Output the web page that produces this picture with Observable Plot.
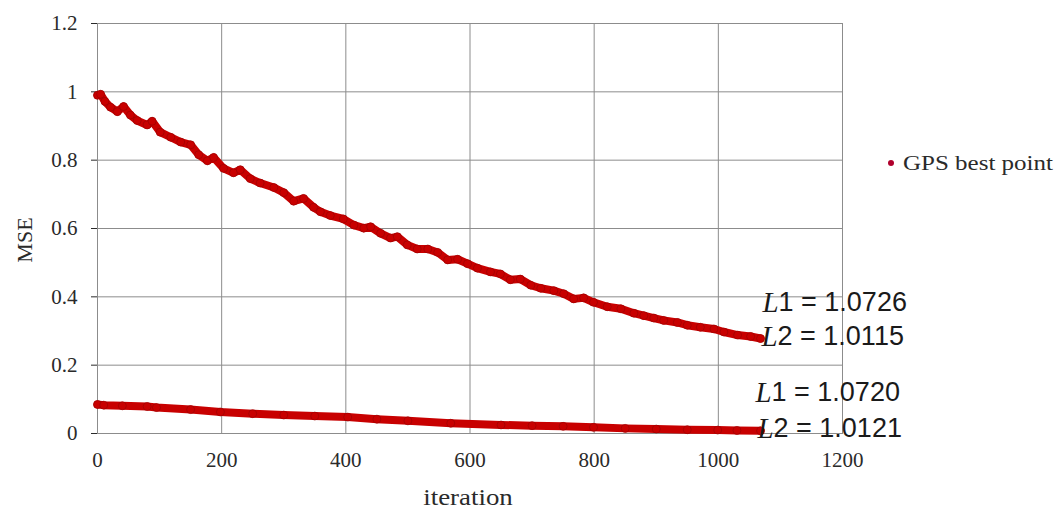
<!DOCTYPE html>
<html><head><meta charset="utf-8">
<script src="https://cdn.jsdelivr.net/npm/d3@7"></script>
<script src="https://cdn.jsdelivr.net/npm/@observablehq/plot@0.6"></script>
<style>
body{margin:0;background:#fff;}
#chart{position:relative;width:1060px;height:514px;}
</style></head><body><div id="chart"></div>
<script>
// Upper run: iteration / MSE
const upperIter = [0,5,12,21,32,42,53,64,80,88,101,118,134,150,163,177,187,203,219,230,246,262,284,300,316,332,348,359,375,396,413,429,440,456,472,483,499,515,532,548,564,580,596,612,633,649,665,681,698,714,735,751,767,783,799,821,843,864,880,896,912,934,950,971,993,1009,1031,1052,1068];
const upperMSE  = [0.990,0.993,0.972,0.955,0.942,0.957,0.932,0.916,0.903,0.914,0.882,0.867,0.853,0.845,0.816,0.798,0.808,0.776,0.763,0.772,0.746,0.733,0.720,0.705,0.680,0.688,0.662,0.649,0.638,0.628,0.610,0.601,0.605,0.586,0.572,0.576,0.552,0.540,0.540,0.530,0.508,0.510,0.497,0.484,0.473,0.467,0.450,0.452,0.434,0.425,0.418,0.409,0.394,0.397,0.384,0.371,0.365,0.352,0.345,0.338,0.331,0.325,0.317,0.311,0.306,0.297,0.288,0.284,0.278];
// Lower run
const lowerIter = [0,10,40,80,95,150,198,250,300,350,403,450,500,569,650,700,750,799,850,900,950,999,1030,1068];
const lowerMSE  = [0.085,0.083,0.081,0.079,0.076,0.070,0.063,0.058,0.054,0.051,0.048,0.042,0.037,0.030,0.025,0.023,0.021,0.018,0.015,0.013,0.011,0.010,0.009,0.008];

const xTicks = [0,200,400,600,800,1000,1200];
const yTicks = [0,0.2,0.4,0.6,0.8,1,1.2];
const xLabel = "iteration";
const yLabel = "MSE";
const seriesName = "GPS best point";

// Annotations attached to the end of each run
const annRun   = ["upper","upper","lower","lower"];
const annIndex = ["1","2","1","2"];
const annValue = ["1.0726","1.0115","1.0720","1.0121"];

const data = [
  ...upperIter.map((it,i)=>({run:"upper", iteration:it, mse:upperMSE[i]})),
  ...lowerIter.map((it,i)=>({run:"lower", iteration:it, mse:lowerMSE[i]}))
];
const ends = {
  upper: data.filter(d=>d.run==="upper").slice(-1)[0],
  lower: data.filter(d=>d.run==="lower").slice(-1)[0]
};
const annDy = [-36,-2,-38,-2];
const annDx = [2,1,-5,-3];
const ann = annRun.map((r,i)=>({iteration:ends[r].iteration, mse:ends[r].mse, idx:annIndex[i], val:annValue[i]}));

const red = "#c80000";
const gridColor = "#8c8c8c";
const textColor = "#2a2a2a";
const serif = "'Liberation Serif', 'Times New Roman', serif";

const marks = [
  Plot.ruleX(xTicks, {stroke:gridColor, strokeWidth:1}),
  Plot.ruleY(yTicks, {stroke:gridColor, strokeWidth:1}),
  Plot.frame({stroke:gridColor}),
  Plot.line(data, {x:"iteration", y:"mse", z:"run", stroke:red, strokeWidth:8, strokeLinecap:"round", strokeLinejoin:"round"}),
  Plot.dot(data, {x:"iteration", y:"mse", r:4, fill:red, stroke:"#960000", strokeWidth:0.6})
];
ann.forEach((a,i)=>{
  marks.push(Plot.text([a], {x:"iteration", y:"mse", text:()=>"L", dx:annDx[i], dy:annDy[i], textAnchor:"start", lineAnchor:"middle", fontFamily:serif, fontStyle:"italic", fontSize:29, fill:"#1a1a1a"}));
  marks.push(Plot.text([a], {x:"iteration", y:"mse", text:d=>d.idx+" = "+d.val, dx:annDx[i]+16, dy:annDy[i], textAnchor:"start", lineAnchor:"middle", fontFamily:"'Liberation Sans', sans-serif", fontSize:27, fill:"#1a1a1a"}));
});

const chart = Plot.plot({
  width:1060, height:514,
  marginLeft:97, marginRight:218, marginTop:23, marginBottom:81,
  style:{fontFamily:serif, fontSize:"21px", color:textColor, background:"white"},
  x:{domain:[0,1200], ticks:xTicks, tickSize:0, tickPadding:19, tickFormat:d=>String(d), label:null},
  y:{domain:[0,1.2], ticks:yTicks, tickSize:6, tickPadding:14, tickFormat:d=>String(+d.toFixed(1)), label:null},
  marks
});
document.getElementById("chart").appendChild(chart);

const svg = d3.select(chart);
// Axis titles
svg.append("text").attr("transform","translate(468,497) scale(1.12,1)").attr("text-anchor","middle").attr("dy","0.35em")
  .attr("font-family",serif).attr("font-size",24).attr("fill",textColor).text(xLabel);
svg.append("text").attr("transform","translate(24,240) rotate(-90)").attr("text-anchor","middle").attr("dy","0.35em")
  .attr("font-family",serif).attr("font-size",22).attr("fill",textColor).text(yLabel);
// Legend to the right of the plot
const lg = svg.append("g").attr("transform","translate(891,163)");
lg.append("circle").attr("r",3).attr("fill","#b0002c");
lg.append("text").attr("transform","translate(12,0) scale(1.25,1)").attr("dy","0.35em").attr("text-anchor","start")
  .attr("font-family",serif).attr("font-size",20).attr("fill",textColor).text(seriesName);
</script></body></html>
